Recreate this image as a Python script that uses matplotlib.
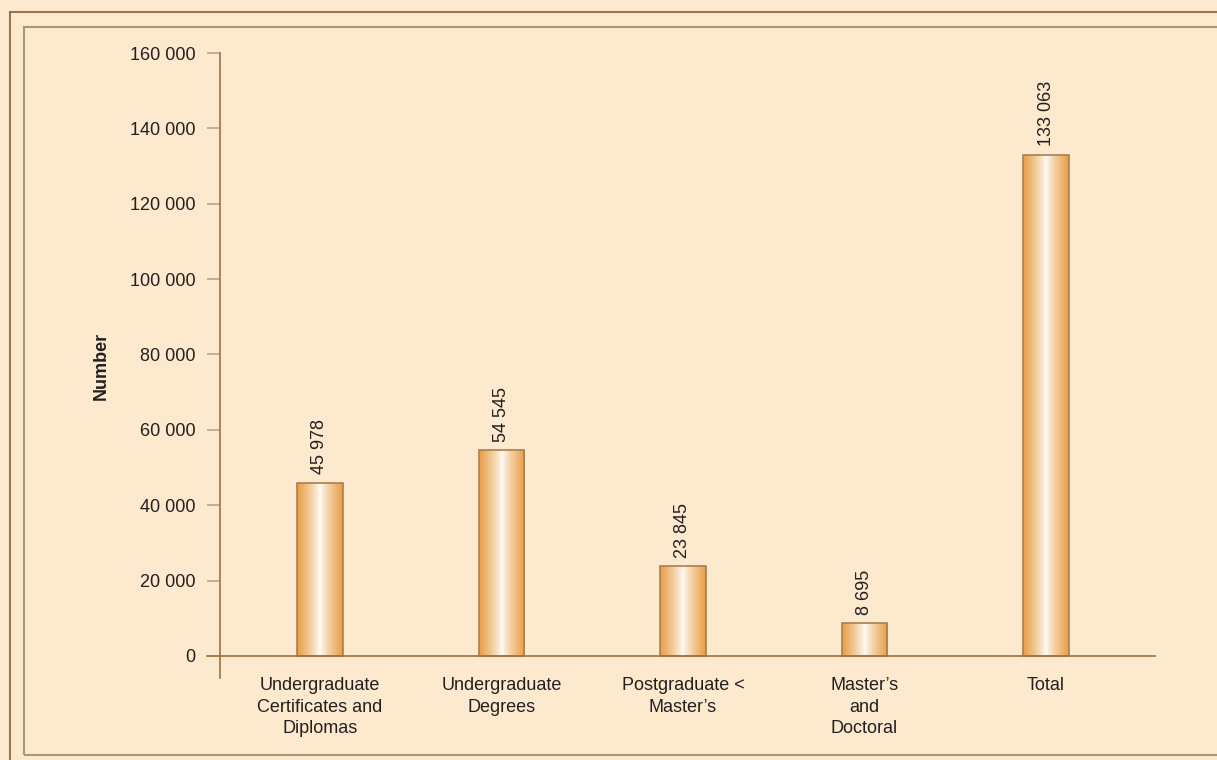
import numpy as np
import matplotlib.pyplot as plt
import matplotlib.transforms as mtransforms
from matplotlib.patches import Rectangle
from matplotlib.lines import Line2D

# data
categories = ["Undergraduate\nCertificates and\nDiplomas", "Undergraduate\nDegrees",
              "Postgraduate <\nMaster\u2019s", "Master\u2019s\nand\nDoctoral", "Total"]
values = [45978, 54545, 23845, 8695, 133063]
value_labels = ["45 978", "54 545", "23 845", "8 695", "133 063"]
yticks = [0, 20000, 40000, 60000, 80000, 100000, 120000, 140000, 160000]
ytick_labels = ["0", "20 000", "40 000", "60 000", "80 000", "100 000", "120 000", "140 000", "160 000"]

bg = "#fde9cd"
brown = "#9a7348"
txt = "#231f20"
fs = 13

plt.rcParams['font.family'] = ['Liberation Sans', 'DejaVu Sans']

fig = plt.figure(figsize=(12.17, 7.6), dpi=100, facecolor=bg)

# frames
fig.add_artist(Rectangle((10/1217, -0.05), 1.2, 1 - 12/760 + 0.05, transform=fig.transFigure,
                         fill=False, edgecolor=brown, lw=1.5))
fig.add_artist(Rectangle((24/1217, 1 - 755/760), 1.2, (755 - 27)/760, transform=fig.transFigure,
                         fill=False, edgecolor="#b39573", lw=1.5))

ax = fig.add_axes([220/1217, 1 - 678/760, (1155 - 220)/1217, (678 - 53)/760])
ax.set_facecolor("none")

x = np.arange(len(values))
width = 0.25

# gradient for bars: orange edges, white centre
g = np.linspace(0, 1, 200)
prof = np.abs(g - 0.5) / 0.5
prof = prof ** 0.8
c_edge = np.array([232, 158, 70]) / 255
c_mid = np.array([255, 253, 248]) / 255
grad = c_mid[None, :] * (1 - prof[:, None]) + c_edge[None, :] * prof[:, None]
grad = grad[None, :, :]

bars = ax.bar(x, values, width=width, color="none", edgecolor="#a8804e", lw=1.2, zorder=3)
for b in bars:
    x0, w, h = b.get_x(), b.get_width(), b.get_height()
    im = ax.imshow(grad, extent=[x0, x0 + w, 0, h], aspect="auto", zorder=2, interpolation="bilinear")
    im.set_clip_path(b)

for xi, v, lab in zip(x, values, value_labels):
    ax.text(xi, v + 2200, lab, rotation=90, ha="center", va="bottom", fontsize=fs, color=txt)

ax.set_xlim(-0.55, 4.6)
ax.set_ylim(-5840, 160000)
ax.set_yticks(yticks)
ax.set_yticklabels(ytick_labels)
ax.set_xticks(x)
ax.set_xticklabels(categories, linespacing=1.38)
ax.tick_params(axis="x", length=0, pad=-1, labelsize=fs, colors=txt)
ax.tick_params(axis="y", length=9.4, width=1.2, color="#c2a27c", labelsize=fs, labelcolor=txt, pad=8)

for s in ["top", "right", "bottom"]:
    ax.spines[s].set_visible(False)
ax.spines["left"].set_color(brown)
ax.spines["left"].set_linewidth(1.2)

# x axis line at zero, extending slightly left of the y axis
trans = mtransforms.blended_transform_factory(ax.transAxes, ax.transData)
ax.add_line(Line2D([-13/935, 1], [0, 0], transform=trans,
                   color=brown, lw=1.2, clip_on=False, zorder=4))

ax.set_ylabel("Number", fontweight="bold", fontsize=fs, color=txt)
ax.yaxis.set_label_coords((110 - 220)/935, 0.5)

fig.savefig("out.png", dpi=100, facecolor=bg)
